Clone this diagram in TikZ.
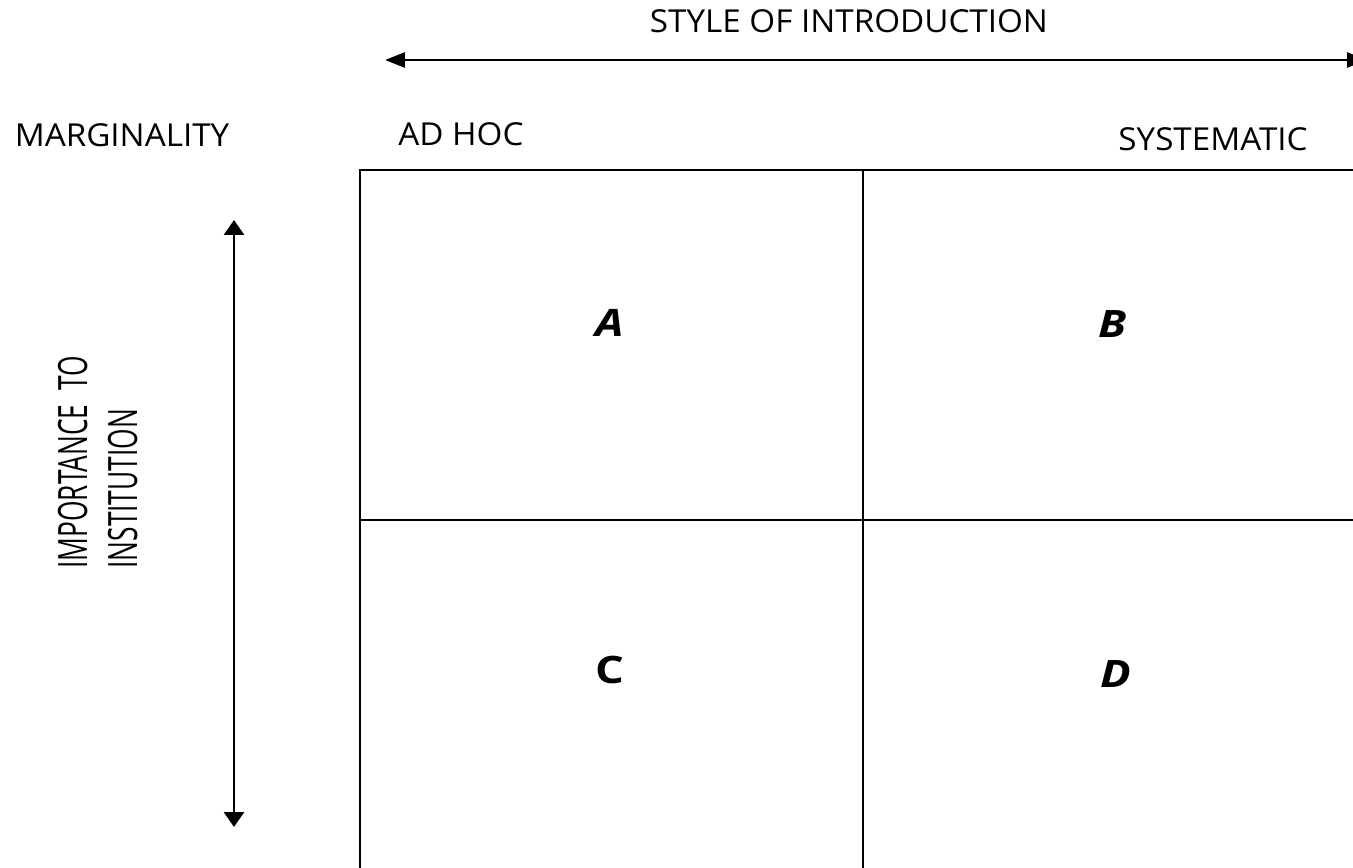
\documentclass[tikz,border=0pt]{standalone}
\usepackage{fontspec}
\setmainfont{Open Sans}
\usetikzlibrary{arrows.meta}

\begin{document}
\begin{tikzpicture}[x=0.02cm,y=-0.02cm,
gridline/.style={draw=black, line width=1.1pt},
harrow/.style={line width=1.7pt, {Triangle[length=0.4cm,width=0.3cm]}-{Triangle[length=0.4cm,width=0.3cm]}},
varrow/.style={line width=1.7pt, {Triangle[length=0.3cm,width=0.4cm]}-{Triangle[length=0.3cm,width=0.4cm]}},
headtext/.style={font=\fontsize{18}{20}\selectfont, inner sep=0pt},
sidetext/.style={font=\fontsize{12.7}{14}\selectfont, inner sep=0pt, rotate=90, anchor=base west},
cellletter/.style={font=\fontsize{21.5}{24}\selectfont\bfseries, inner sep=0pt}
]
\useasboundingbox (0,0) rectangle (1353,868);

    % headings
    \node [headtext] (t1) at (849,21) {\scalebox{1.05}[1]{STYLE OF INTRODUCTION}};
    \node [headtext] (t2) at (122,135) {\scalebox{1.05}[1]{MARGINALITY}};
    \node [headtext,anchor=west] (t3) at (398,134) {\scalebox{1.05}[1]{AD HOC}};
    \node [headtext] (t4) at (1213,139) {\scalebox{1.05}[1]{SYSTEMATIC}};

    % side label
    \node [sidetext] (t5) at (87,569) {\scalebox{1.18}[1.81]{IMPORTANCE\ \ TO}};
    \node [sidetext] (t6) at (137,569) {\scalebox{1.18}[1.81]{INSTITUTION}};

    % arrow ends
    \coordinate (h1) at (385,60);
    \coordinate (h2) at (1367,60);
    \coordinate (v1) at (234,220);
    \coordinate (v2) at (234,827);
    \draw [harrow] (h1) -- (h2);
    \draw [varrow] (v1) -- (v2);

    % grid corners
    \coordinate (g1) at (360,170);
    \coordinate (g2) at (1360,170);
    \coordinate (g3) at (360,875);
    \coordinate (g4) at (863,170);
    \coordinate (g5) at (863,875);
    \coordinate (g6) at (360,520);
    \coordinate (g7) at (1360,520);
    \draw [gridline] (g3) -- (g1) -- (g2);
    \draw [gridline] (g4) -- (g5);
    \draw [gridline] (g6) -- (g7);

    % cells
    \node [cellletter] (a) at (610,323) {\scalebox{1.2}[1]{\itshape A}};
    \node [cellletter] (b) at (1113,324) {\scalebox{1.2}[1]{\itshape B}};
    \node [cellletter] (c) at (610,670) {\scalebox{1.2}[1]{C}};
    \node [cellletter] (d) at (1116,674) {\scalebox{1.2}[1]{\itshape D}};
\end{tikzpicture}
\end{document}
